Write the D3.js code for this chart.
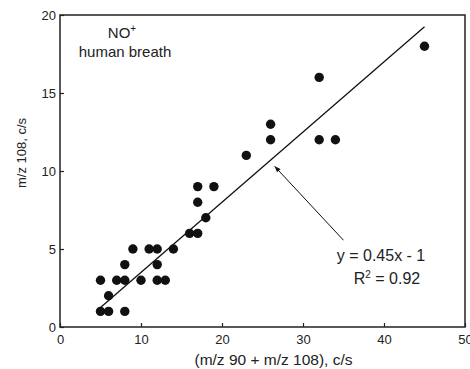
<!DOCTYPE html>
<html lang="en">
<head>
    <meta charset="UTF-8">
    <title>NO+ human breath</title>
    <script src="https://cdn.jsdelivr.net/npm/d3@7"></script>
    <style>
        body { margin: 0; background: #fff; }
        text { font-family: "Liberation Sans", Arial, sans-serif; fill: #222; }
    </style>
</head>
<body>
    <div id="chart"></div>
    <script>
        // data points: x = m/z 90 + m/z 108, y = m/z 108 (c/s)
        const xVals = [5, 6, 8, 6, 5, 7, 8, 10, 12, 13, 8, 12, 9, 11, 12, 14, 16, 17, 18, 17, 17, 19, 23, 26, 26, 32, 32, 34, 45];
        const yVals = [1, 1, 1, 2, 3, 3, 3, 3, 3, 3, 4, 4, 5, 5, 5, 5, 6, 6, 7, 8, 9, 9, 11, 12, 13, 16, 12, 12, 18];

        // fit line y = 0.45x - 1
        const fitSlope = 0.45;
        const fitIntercept = -1;
        const fitRange = [5, 45];

        const xTicks = [0, 10, 20, 30, 40, 50];
        const yTicks = [0, 5, 10, 15, 20];

        const W = 470, H = 369;
        const margin = { top: 15, right: 5, bottom: 42, left: 60 };

        const svg = d3.select("#chart").append("svg")
            .attr("width", W)
            .attr("height", H);

        const x = d3.scaleLinear().domain([0, 50]).range([margin.left, W - margin.right]);
        const y = d3.scaleLinear().domain([0, 20]).range([H - margin.bottom, margin.top]);

        // axes (ticks inside)
        const xAxis = svg.append("g")
            .attr("transform", `translate(0,${y(0)})`)
            .call(d3.axisBottom(x).tickValues(xTicks).tickSizeInner(-4).tickSizeOuter(0).tickPadding(8));
        const yAxis = svg.append("g")
            .attr("transform", `translate(${x(0)},0)`)
            .call(d3.axisLeft(y).tickValues(yTicks).tickSizeInner(-4).tickSizeOuter(0).tickPadding(4));

        [xAxis, yAxis].forEach(g => {
            g.select(".domain").remove();
            g.selectAll("line").attr("stroke", "#222").attr("stroke-width", 1.2);
            g.selectAll("text").style("font-size", "13px").attr("fill", "#222")
                .style("font-family", "'Liberation Sans', Arial, sans-serif");
        });

        // frame
        svg.append("rect")
            .attr("x", x(0)).attr("y", y(20))
            .attr("width", x(50) - x(0)).attr("height", y(0) - y(20))
            .attr("fill", "none").attr("stroke", "#222").attr("stroke-width", 1.5);

        // axis titles
        svg.append("text")
            .attr("x", (x(0) + x(50)) / 2 + 11)
            .attr("y", 365)
            .attr("text-anchor", "middle")
            .style("font-size", "15.5px")
            .text("(m/z 90 + m/z 108), c/s");

        svg.append("text")
            .attr("transform", "rotate(-90)")
            .attr("x", -153)
            .attr("y", 26)
            .attr("text-anchor", "middle")
            .style("font-size", "13px")
            .text("m/z 108, c/s");

        // fit line
        svg.append("line")
            .attr("x1", x(fitRange[0])).attr("y1", y(fitSlope * fitRange[0] + fitIntercept))
            .attr("x2", x(fitRange[1])).attr("y2", y(fitSlope * fitRange[1] + fitIntercept))
            .attr("stroke", "#111").attr("stroke-width", 1.3);

        // points
        svg.selectAll(".pt")
            .data(xVals.map((v, i) => [v, yVals[i]]))
            .enter().append("circle")
            .attr("class", "pt")
            .attr("cx", d => x(d[0]))
            .attr("cy", d => y(d[1]))
            .attr("r", 4.7)
            .attr("fill", "#111");

        // arrow to the fit line
        svg.append("defs").append("marker")
            .attr("id", "head")
            .attr("viewBox", "0 0 10 10")
            .attr("refX", 10).attr("refY", 5)
            .attr("markerWidth", 9).attr("markerHeight", 6)
            .attr("markerUnits", "userSpaceOnUse")
            .attr("orient", "auto")
            .append("path").attr("d", "M0,1 L10,5 L0,9 Z").attr("fill", "#111");

        svg.append("line")
            .attr("x1", x(35)).attr("y1", y(5.56))
            .attr("x2", x(26.5)).attr("y2", y(10.3))
            .attr("stroke", "#111").attr("stroke-width", 1)
            .attr("marker-end", "url(#head)");

        // annotations
        svg.append("text")
            .attr("x", 381).attr("y", 261)
            .attr("text-anchor", "middle")
            .style("font-size", "16px")
            .text("y = 0.45x - 1");

        const r2 = svg.append("text")
            .attr("x", 387).attr("y", 284)
            .attr("text-anchor", "middle")
            .style("font-size", "16px");
        r2.append("tspan").text("R");
        r2.append("tspan").attr("dy", -6).style("font-size", "10px").text("2");
        r2.append("tspan").attr("dy", 6).text(" = 0.92");

        const no = svg.append("text")
            .attr("x", 122).attr("y", 38)
            .attr("text-anchor", "middle")
            .style("font-size", "15px");
        no.append("tspan").text("NO");
        no.append("tspan").attr("dy", -6).style("font-size", "10px").text("+");

        svg.append("text")
            .attr("x", 125).attr("y", 57)
            .attr("text-anchor", "middle")
            .style("font-size", "15px")
            .text("human breath");
    </script>
</body>
</html>
